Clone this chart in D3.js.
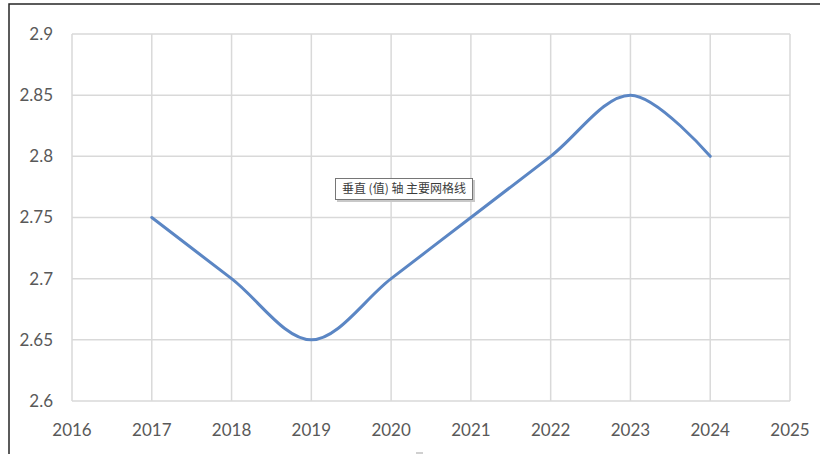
<!DOCTYPE html>
<html><head><meta charset="utf-8">
<script src="https://cdn.jsdelivr.net/npm/d3@7"></script>
<style>
html,body{margin:0;padding:0;background:#fff;}
svg{display:block;}
</style></head>
<body>
<svg id="chart" width="820" height="454"></svg>
<script>
const years = [2017, 2018, 2019, 2020, 2021, 2022, 2023, 2024];
const values = [2.75, 2.70, 2.65, 2.70, 2.75, 2.80, 2.85, 2.80];
const xTicks = [2016, 2017, 2018, 2019, 2020, 2021, 2022, 2023, 2024, 2025];
const yTicks = [2.6, 2.65, 2.7, 2.75, 2.8, 2.85, 2.9];
const tooltipText = "垂直 (值) 轴 主要网格线";

const svg = d3.select("#chart");
const font = "Lato, 'Open Sans', sans-serif";

// outer chart frame
svg.append("path").attr("d", "M9,460 L9,4 L830,4")
  .attr("fill", "none").attr("stroke", "#262626").attr("stroke-width", 1.5);

const x = d3.scaleLinear().domain([2016, 2025]).range([72, 790]);
const y = d3.scaleLinear().domain([2.6, 2.9]).range([401, 34]);

// gridlines
svg.append("g").selectAll("line").data(yTicks).join("line")
  .attr("x1", x(2016)).attr("x2", x(2025))
  .attr("y1", d => y(d)).attr("y2", d => y(d))
  .attr("stroke", "#d9d9d9").attr("stroke-width", 1.5);
svg.append("g").selectAll("line").data(xTicks).join("line")
  .attr("x1", d => x(d)).attr("x2", d => x(d))
  .attr("y1", y(2.6)).attr("y2", y(2.9))
  .attr("stroke", "#d9d9d9").attr("stroke-width", 1.5);

// y labels
svg.append("g").selectAll("text").data(yTicks).join("text")
  .attr("x", 53).attr("y", d => y(d)).attr("dy", "0.35em")
  .attr("text-anchor", "end")
  .attr("font-family", font).attr("font-size", 17).attr("fill", "#595959")
  .text(d => d3.format("")(+d.toFixed(2)));

// x labels
svg.append("g").selectAll("text").data(xTicks).join("text")
  .attr("x", d => x(d)).attr("y", 436)
  .attr("text-anchor", "middle")
  .attr("font-family", font).attr("font-size", 17).attr("fill", "#595959")
  .text(d => d);

// line
const line = d3.line().x((d, i) => x(years[i])).y(d => y(d)).curve(d3.curveCardinal.tension(0));
svg.append("path").datum(values).attr("d", line)
  .attr("fill", "none").attr("stroke", "#5b86c4").attr("stroke-width", 3)
  .attr("stroke-linecap", "round").attr("stroke-linejoin", "round");

// tooltip
const tg = svg.append("g").attr("transform", "translate(335,178)");
tg.append("rect").attr("x", 2).attr("y", 2).attr("width", 138).attr("height", 22).attr("fill", "#c8c8c8");
tg.append("rect").attr("x", 0.5).attr("y", 0.5).attr("width", 137).attr("height", 21)
  .attr("fill", "#ffffff").attr("stroke", "#767676").attr("stroke-width", 1);
tg.append("text").attr("x", 69).attr("y", 15).attr("text-anchor", "middle")
  .attr("font-family", "'Noto Sans CJK SC', sans-serif").attr("font-size", 12).attr("fill", "#3c3c3c")
  .text(tooltipText);

// small artifact at bottom
svg.append("line").attr("x1", 416).attr("x2", 423).attr("y1", 453).attr("y2", 453)
  .attr("stroke", "#c0c0c0").attr("stroke-width", 1.5);
</script>
</body></html>
